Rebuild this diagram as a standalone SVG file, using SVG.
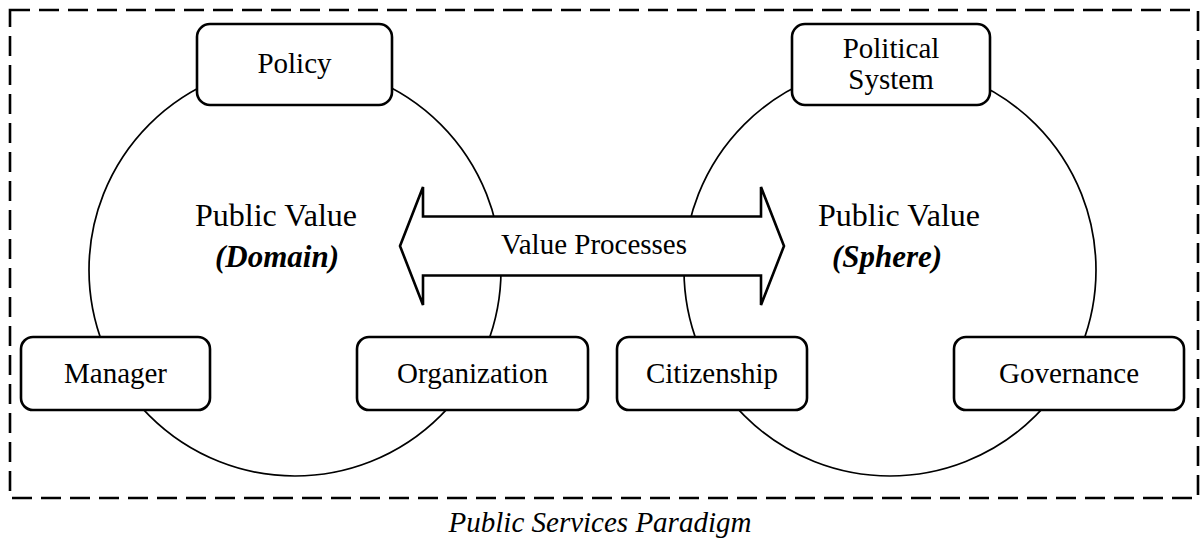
<svg xmlns="http://www.w3.org/2000/svg" width="1200" height="547" viewBox="0 0 1200 547">
  <style>
    text { font-family: "Liberation Serif", "Times New Roman", serif; fill: #000; text-anchor: middle; }
    .lbl { font-size: 29px; }
    .big { font-size: 32px; }
    .bi { font-size: 31px; font-weight: bold; font-style: italic; }
    .cap { font-size: 29px; font-style: italic; }
    .box { fill: #fff; stroke: #000; stroke-width: 2.6; }
    .circ { fill: none; stroke: #000; stroke-width: 1.7; }
    .frame { fill: none; stroke: #000; stroke-width: 2.6; stroke-dasharray: 20 9; }
    .arrow { fill: #fff; stroke: #000; stroke-width: 2.6; stroke-linejoin: miter; }
  </style>
  <rect width="1200" height="547" fill="#fff"/>
  <g id="frame">
    <rect class="frame" x="10" y="10" width="1188" height="488"/>
  </g>
  <g id="domain-circle">
    <circle class="circ" cx="295" cy="270" r="206"/>
  </g>
  <g id="sphere-circle">
    <circle class="circ" cx="890" cy="270" r="206"/>
  </g>
  <g id="connectors">
    <polygon class="arrow" points="400,246 423,187 423,216.5 761,216.5 761,187 784,246 761,305 761,275.5 423,275.5 423,305"/>
    <text class="lbl" x="594" y="254">Value Processes</text>
  </g>
  <g id="domain-label">
    <text class="big" x="276" y="226">Public Value</text>
    <text class="bi" x="277" y="267">(Domain)</text>
  </g>
  <g id="sphere-label">
    <text class="big" x="899" y="226">Public Value</text>
    <text class="bi" x="887" y="267">(Sphere)</text>
  </g>
  <g id="policy">
    <rect class="box" x="197" y="24" width="195" height="81" rx="13"/>
    <text class="lbl" x="294.5" y="73">Policy</text>
  </g>
  <g id="political-system">
    <rect class="box" x="792" y="24" width="198" height="81" rx="13"/>
    <text class="lbl" x="891" y="58">Political</text>
    <text class="lbl" x="891" y="89">System</text>
  </g>
  <g id="manager">
    <rect class="box" x="21" y="337" width="189" height="73" rx="12"/>
    <text class="lbl" x="115.5" y="383">Manager</text>
  </g>
  <g id="organization">
    <rect class="box" x="357" y="337" width="231" height="73" rx="12"/>
    <text class="lbl" x="472.5" y="383">Organization</text>
  </g>
  <g id="citizenship">
    <rect class="box" x="617" y="337" width="190" height="73" rx="12"/>
    <text class="lbl" x="712" y="383">Citizenship</text>
  </g>
  <g id="governance">
    <rect class="box" x="954" y="337" width="230" height="73" rx="12"/>
    <text class="lbl" x="1069" y="383">Governance</text>
  </g>
  <g id="caption">
    <text class="cap" x="600" y="532">Public Services Paradigm</text>
  </g>
</svg>
